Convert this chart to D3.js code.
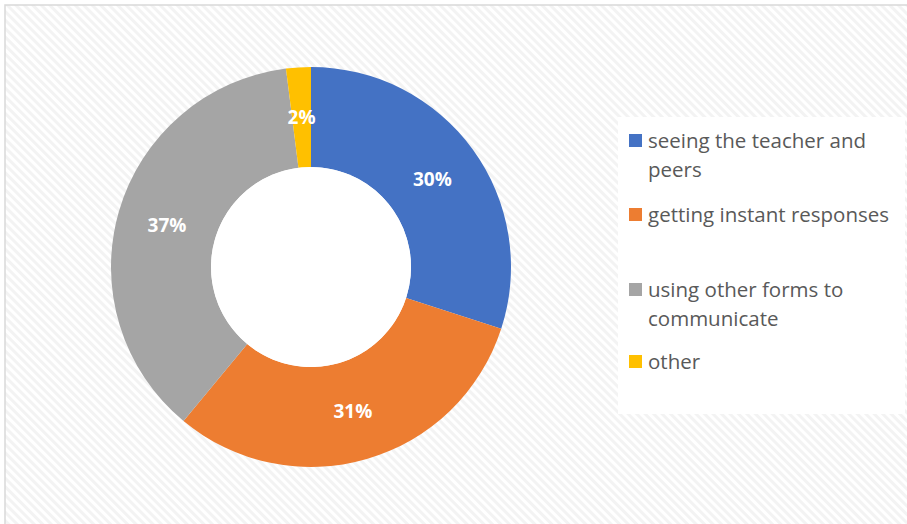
<!DOCTYPE html>
<html>
<head>
<meta charset="utf-8">
<script src="https://cdn.jsdelivr.net/npm/d3@7"></script>
<style>
  html, body { margin: 0; padding: 0; background: #ffffff; }
  svg { display: block; }
</style>
</head>
<body>
<svg id="chart" width="907" height="524"></svg>
<script>
// Share of responses by category
const categories = [
  "seeing the teacher and peers",
  "getting instant responses",
  "using other forms to communicate",
  "other"
];
const values = [30, 31, 37, 2];
const colors = ["#4472c4", "#ed7d31", "#a5a5a5", "#ffc000"];
// Legend entries as wrapped lines
const legendLines = [
  ["seeing the teacher and", "peers"],
  ["getting instant responses"],
  ["using other forms to", "communicate"],
  ["other"]
];

const svg = d3.select("#chart");
const W = 907, H = 524;

// Diagonal hatched background
const defs = svg.append("defs");
const pat = defs.append("pattern")
  .attr("id", "hatch")
  .attr("patternUnits", "userSpaceOnUse")
  .attr("width", 6).attr("height", 6)
  .attr("patternTransform", "rotate(-45)");
pat.append("rect").attr("width", 6).attr("height", 6).attr("fill", "#ffffff");
pat.append("rect").attr("x", 0).attr("width", 3).attr("height", 6).attr("fill", "#f3f3f3");

svg.append("rect").attr("width", W).attr("height", H).attr("fill", "#ffffff");
svg.append("rect")
  .attr("x", 5).attr("y", 5).attr("width", W - 4).attr("height", H - 4)
  .attr("fill", "url(#hatch)")
  .attr("stroke", "#d9d9d9").attr("stroke-width", 1.5);

// Donut
const cx = 311, cy = 267, rOuter = 200, rInner = 100;
const pie = d3.pie().sort(null).value(d => d.value);
const arcs = pie(categories.map((c, i) => ({ name: c, value: values[i], color: colors[i] })));
const arc = d3.arc().innerRadius(rInner).outerRadius(rOuter);
const labelArc = d3.arc().innerRadius((rInner + rOuter) / 2).outerRadius((rInner + rOuter) / 2);

const g = svg.append("g").attr("transform", `translate(${cx},${cy})`);
g.selectAll("path.slice")
  .data(arcs)
  .join("path")
  .attr("class", "slice")
  .attr("d", arc)
  .attr("fill", d => d.data.color);

// White fill for the hole, over the hatching
g.append("circle").attr("r", rInner).attr("fill", "#ffffff");

g.selectAll("text.pct")
  .data(arcs)
  .join("text")
  .attr("class", "pct")
  .attr("transform", d => `translate(${labelArc.centroid(d)})`)
  .attr("text-anchor", "middle")
  .attr("dy", "0.36em")
  .attr("font-family", "'Open Sans', sans-serif")
  .attr("font-weight", "bold")
  .attr("font-size", 19)
  .attr("fill", "#ffffff")
  .text(d => d.data.value + "%");

// Legend
svg.append("rect")
  .attr("x", 618).attr("y", 117).attr("width", 287).attr("height", 297)
  .attr("fill", "#ffffff");

const rowBaselines = [148, 222, 297, 369];
const lg = svg.append("g");
legendLines.forEach((lines, i) => {
  lg.append("rect")
    .attr("x", 629).attr("y", rowBaselines[i] - 14)
    .attr("width", 13).attr("height", 13)
    .attr("fill", colors[i]);
  lines.forEach((line, j) => {
    lg.append("text")
      .attr("x", 648).attr("y", rowBaselines[i] + j * 29)
      .attr("font-family", "'Open Sans', sans-serif")
      .attr("font-size", 20.5)
      .attr("fill", "#595959")
      .text(line);
  });
});
</script>
</body>
</html>
